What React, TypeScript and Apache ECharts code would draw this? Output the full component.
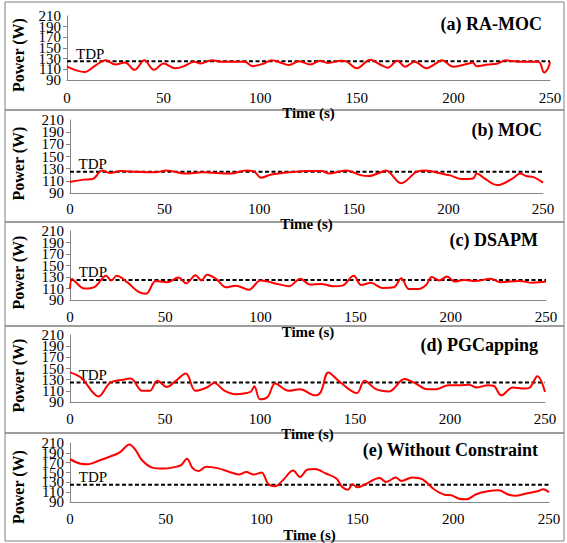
import React, { useEffect, useRef } from "react";
import * as echarts from "echarts";

// ---- Data ----
const xTicks = [0, 50, 100, 150, 200, 250];
const yTicks = [90, 110, 130, 150, 170, 190, 210];
const tdpValue = 125;

const raMocT = [0, 9, 15, 20, 25, 30, 35, 40, 45, 50, 56, 60, 66, 69, 75, 80, 92, 96, 102, 106, 111, 115, 120, 126, 131, 135, 142, 145, 150, 157, 162, 166, 171, 175, 180, 186, 191, 194, 200, 208, 210, 212, 218, 223, 227, 234, 244, 247, 249, 250];
const raMocP = [115, 105, 118, 127, 119, 123, 109, 127, 109, 121, 112, 115, 124, 121, 127, 124, 124, 116, 121, 127, 122, 118, 125, 119, 126, 122, 126, 124, 112, 128, 119, 113, 126, 115, 124, 112, 121, 127, 115, 121, 123, 116, 119, 121, 127, 124, 124, 104, 112, 124];

const mocT = [0, 7, 12, 17, 21, 27, 35, 45, 51, 61, 70, 85, 93, 97, 101, 106, 116, 127, 133, 137, 142, 146, 154, 158, 165, 167, 175, 184, 188, 196, 201, 207, 213, 215, 219, 226, 234, 238, 241, 245, 250];
const mocP = [108, 112, 113, 127, 123, 126, 125, 124, 127, 122, 124, 122, 127, 126, 115, 120, 124, 126, 126, 122, 125, 127, 119, 118, 125, 127, 106, 126, 127, 122, 119, 113, 114, 122, 114, 103, 114, 122, 118, 116, 107];

const dsapmT = [0, 1, 3, 7.5, 13, 19, 21.7, 24.5, 30, 36, 40, 45, 51, 57, 61, 66, 69, 72, 77, 82, 87, 94, 100, 109, 115, 121, 126, 132, 138, 143, 149, 153, 158, 164, 170, 174, 178, 183, 187, 190, 194, 198, 202, 207, 213, 221, 226, 236, 243, 250];
const dsapmP = [109, 127, 121, 110, 113, 132, 124, 132, 121, 104, 101, 123, 121, 129, 119, 133, 124, 134, 126, 112, 115, 108, 124, 118, 114, 127, 117, 118, 114, 115, 132, 116, 120, 111, 112, 128, 109, 109, 116, 130, 124, 131, 122, 125, 123, 127, 121, 123, 120, 122];

const pgT = [0, 6, 15, 21, 28, 32, 38, 42, 46, 51, 55, 61, 66, 72, 76, 81, 87, 95, 97, 100, 104, 108, 115, 121, 129, 132, 136, 142, 151, 155, 161, 168, 176, 182, 188, 193, 199, 205, 210, 214, 220, 223, 227, 233, 239, 242, 246, 250];
const pgP = [143, 133, 100, 124, 130, 132, 110, 110, 128, 117, 126, 141, 110, 116, 124, 111, 104, 108, 118, 95, 99, 123, 110, 113, 102, 108, 143, 126, 106, 128, 113, 109, 131, 123, 113, 113, 120, 120, 121, 116, 120, 119, 102, 116, 114, 116, 136, 108];

const noCapT = [0, 5.6, 9.4, 15, 20.7, 26, 31, 34, 37.6, 43, 49, 54.5, 58, 61, 64, 67, 71, 77, 85, 88, 92, 96, 100, 103.4, 107, 111, 116.5, 120, 124, 128, 133.5, 139, 142, 145, 147.5, 150, 154, 161.6, 165, 170, 173, 178.6, 184, 190, 195.5, 199, 203, 207, 212, 218, 223.6, 229, 233, 238.6, 244, 247, 250];
const noCapP = [177, 168, 167, 174, 182, 191, 207, 197, 175, 160, 158, 161, 165, 178, 159, 153, 162, 159, 149, 146, 151, 146, 150, 127, 122, 134, 154, 141, 156, 157, 148, 138, 121, 115, 126, 120, 126, 139, 131, 140, 133, 140, 136, 116, 105, 104, 97, 96, 106, 112, 114, 105, 103, 108, 112, 116, 110];

const titles = ["(a) RA-MOC", "(b) MOC", "(c) DSAPM", "(d) PGCapping", "(e) Without Constraint"];
const seriesT = [raMocT, mocT, dsapmT, pgT, noCapT];
const seriesP = [raMocP, mocP, dsapmP, pgP, noCapP];

// ---- Layout (pixels) ----
const layout = [
  { boxTop: 2, boxBottom: 110, left: 67, right: 550, top: 16, bottom: 80, labelMargin: 10, nameGap: 15, titleRight: 542, titleY: 24 },
  { boxTop: 110, boxBottom: 222, left: 70, right: 543, top: 120, bottom: 193, labelMargin: 8, nameGap: 14, titleRight: 542, titleY: 130 },
  { boxTop: 222, boxBottom: 326, left: 70, right: 546, top: 231, bottom: 300, labelMargin: 9, nameGap: 12, titleRight: 538, titleY: 240 },
  { boxTop: 326, boxBottom: 433, left: 70, right: 545, top: 335, bottom: 402, labelMargin: 9, nameGap: 15, titleRight: 538, titleY: 345 },
  { boxTop: 433, boxBottom: 541, left: 70, right: 549, top: 443, bottom: 517, labelMargin: 9, nameGap: 9, titleRight: 538, titleY: 450 },
];

const FONT = "Liberation Serif";

export default function App() {
  const ref = useRef<HTMLDivElement>(null);
  useEffect(() => {
    if (!ref.current) return;
    const chart = echarts.init(ref.current, undefined, { renderer: "svg" });
    const grids: any[] = [];
    const xAxes: any[] = [];
    const yAxes: any[] = [];
    const series: any[] = [];
    const graphics: any[] = [];
    const yMin = yTicks[0];
    const yMax = yTicks[yTicks.length - 1];
    layout.forEach((L, i) => {
      grids.push({ left: L.left, top: L.top, width: L.right - L.left, height: L.bottom - L.top });
      xAxes.push({
        type: "value", gridIndex: i, min: xTicks[0], max: xTicks[xTicks.length - 1], interval: 50,
        axisLine: { show: true, lineStyle: { color: "#868686", width: 1 } },
        axisTick: { show: false }, splitLine: { show: false },
        axisLabel: { fontFamily: FONT, fontSize: 15, color: "#000", margin: L.labelMargin, interval: 0, showMinLabel: true, showMaxLabel: true },
        name: "Time (s)", nameLocation: "middle", nameGap: L.nameGap,
        nameTextStyle: { fontFamily: FONT, fontSize: 15, fontWeight: "bold", color: "#000" },
      });
      // main y axis: line, ticks and inner labels
      yAxes.push({
        type: "value", gridIndex: i, min: yMin, max: yMax, interval: 20,
        axisLine: { show: true, lineStyle: { color: "#868686", width: 1 } },
        axisTick: { show: true, length: 4, lineStyle: { color: "#868686" } },
        splitLine: { show: false },
        axisLabel: { fontFamily: FONT, fontSize: 15, color: "#000", margin: 6, interval: 0, showMinLabel: false, showMaxLabel: false },
      });
      // overlay y axis: only the end labels (90 and 210)
      yAxes.push({
        type: "value", gridIndex: i, min: yMin, max: yMax, interval: 20, position: "left",
        axisLine: { show: false }, axisTick: { show: false }, splitLine: { show: false },
        axisLabel: {
          fontFamily: FONT, fontSize: 15, color: "#000", margin: 6, showMinLabel: true, showMaxLabel: true,
          formatter: (v: number) => (v === yMin || v === yMax ? String(v) : ""),
        },
      });
      const yi = i * 2;
      series.push({
        type: "line", xAxisIndex: i, yAxisIndex: yi,
        data: [[xTicks[0], tdpValue], [xTicks[xTicks.length - 1], tdpValue]],
        symbol: "none", lineStyle: { color: "#000", width: 2, type: [4, 2.5] }, silent: true,
      });
      series.push({
        type: "line", xAxisIndex: i, yAxisIndex: yi,
        data: seriesT[i].map((t, k) => [t, seriesP[i][k]]),
        symbol: "none", smooth: 0.35, lineStyle: { color: "#FF0000", width: 2 },
      });
      series.push({
        type: "scatter", xAxisIndex: i, yAxisIndex: yi, data: [[12, tdpValue]], symbolSize: 0,
        itemStyle: { opacity: 1 }, silent: true,
        label: { show: true, formatter: "TDP", position: "top", distance: 0, fontFamily: FONT, fontSize: 15, color: "#000" },
      });
      graphics.push({
        type: "rect", shape: { x: 5, y: L.boxTop, width: 559, height: L.boxBottom - L.boxTop },
        style: { fill: "none", stroke: "#7f7f7f", lineWidth: 1 },
      });
      graphics.push({
        type: "text", x: L.titleRight, y: L.titleY,
        style: { text: titles[i], fontFamily: FONT, fontSize: 18, fontWeight: "bold", fill: "#000", align: "right", verticalAlign: "middle" },
      });
      graphics.push({
        type: "text", x: 18, y: (L.top + L.bottom) / 2 + 7, rotation: Math.PI / 2,
        style: { text: "Power (W)", fontFamily: FONT, fontSize: 16, fontWeight: "bold", fill: "#000", align: "center", verticalAlign: "middle" },
      });
    });
    chart.setOption({
      animation: false,
      backgroundColor: "#fff",
      textStyle: { fontFamily: FONT },
      grid: grids, xAxis: xAxes, yAxis: yAxes, series, graphic: graphics,
    });
    return () => chart.dispose();
  }, []);
  return <div ref={ref} style={{ position: "fixed", left: 0, top: 0, width: 567, height: 543 }} />;
}
